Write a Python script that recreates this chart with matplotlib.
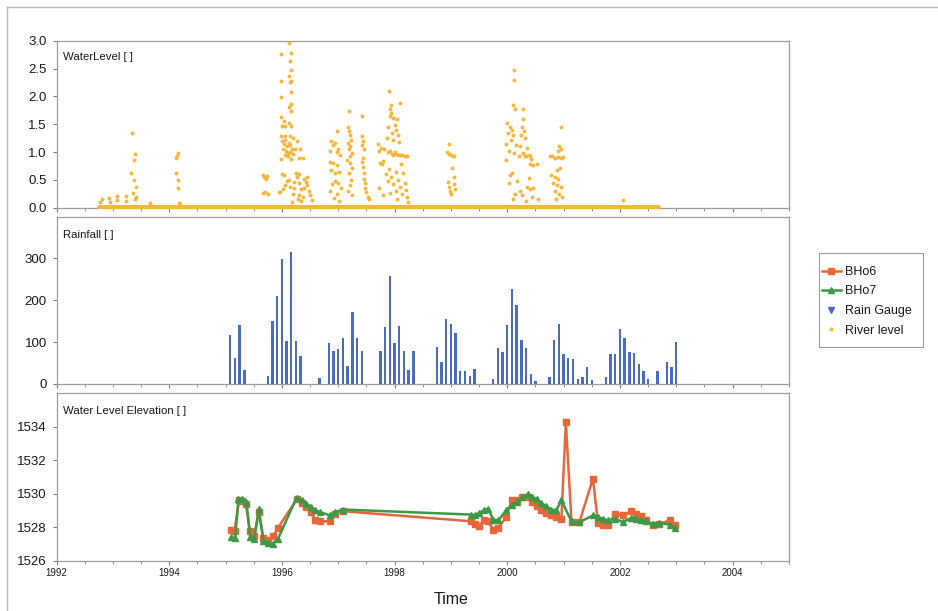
import numpy as np
import matplotlib
matplotlib.use("Agg")
import matplotlib.pyplot as plt
from matplotlib.lines import Line2D
from matplotlib.ticker import MultipleLocator, FormatStrFormatter
from matplotlib.patches import Rectangle

plt.rcParams['font.family'] = ['Liberation Sans', 'DejaVu Sans']

# ---------------- River level (daily gauge, decimal years) ----------------
river_base_start = 1992.75
river_base_end = 2002.68
river_base_level = 0.02

river_1993_t = [1992.78, 1992.80, 1992.94, 1992.95, 1993.07, 1993.08, 1993.23, 1993.24,
                1993.33, 1993.34, 1993.37, 1993.38, 1993.40, 1993.41, 1993.36, 1993.41,
                1993.39, 1993.66]
river_1993_v = [0.10, 0.15, 0.17, 0.11, 0.21, 0.13, 0.21, 0.12,
                0.62, 1.34, 0.86, 0.50, 0.96, 0.38, 0.26, 0.20,
                0.15, 0.08]

river_1994_t = [1994.12, 1994.12, 1994.15, 1994.15, 1994.16, 1994.18, 1994.14, 1994.20]
river_1994_v = [0.89, 0.62, 0.99, 0.50, 0.35, 0.09, 0.93, 0.07]

river_1995_t = [1995.66, 1995.68, 1995.70, 1995.72, 1995.74, 1995.67, 1995.70, 1995.75, 1995.95]
river_1995_v = [0.58, 0.55, 0.56, 0.52, 0.57, 0.26, 0.29, 0.24, 0.28]

river_1996_t = [1996.13, 1995.99, 1996.17, 1996.14, 1996.16, 1996.13, 1996.17, 1996.15, 1995.99,
                1996.17, 1995.99, 1996.17, 1996.13, 1996.16, 1995.98, 1996.03, 1996.12, 1996.16,
                1996.00, 1996.06, 1995.99, 1996.05, 1996.14, 1996.19,
                1996.00, 1996.03, 1996.06, 1996.09, 1996.12, 1996.15, 1996.18, 1996.02, 1996.08,
                1996.11, 1996.14, 1996.05, 1996.20, 1996.27, 1996.24, 1996.32, 1996.30, 1996.37,
                1995.99, 1996.10, 1996.17,
                1996.00, 1996.04, 1996.25, 1996.31, 1996.09, 1996.22, 1996.31, 1996.40, 1996.42,
                1996.14, 1996.22, 1996.34, 1996.39, 1996.02, 1995.97, 1996.20, 1996.31, 1996.37,
                1996.28, 1996.34, 1996.45, 1996.48, 1996.50, 1996.44, 1996.26, 1996.12, 1996.06,
                1996.53, 1996.18]
river_1996_v = [2.95, 2.77, 2.78, 2.63, 2.48, 2.37, 2.28, 2.25, 2.27,
                2.08, 1.98, 1.86, 1.80, 1.74, 1.63, 1.56, 1.53, 1.47,
                1.47, 1.46, 1.29, 1.29, 1.28, 1.25,
                1.20, 1.15, 1.22, 1.10, 1.17, 1.12, 1.05, 1.05, 1.02,
                0.98, 1.00, 0.95, 0.96, 1.20, 1.05, 1.05, 0.90, 0.90,
                0.87, 0.92, 0.88,
                0.60, 0.58, 0.62, 0.60, 0.48, 0.47, 0.45, 0.52, 0.47,
                0.37, 0.35, 0.33, 0.36, 0.33, 0.28, 0.25, 0.22, 0.20,
                0.15, 0.12, 0.40, 0.30, 0.22, 0.55, 0.55, 0.50, 0.41,
                0.14, 0.10]

river_1997_t = [1996.97, 1996.88, 1996.94, 1996.91, 1997.00, 1996.86, 1996.97, 1997.03, 1996.85,
                1996.91, 1996.97, 1996.88, 1996.94, 1997.01, 1996.94, 1996.99, 1996.89, 1996.85,
                1996.97, 1997.05, 1996.92, 1997.02,
                1997.19, 1997.17, 1997.19, 1997.20, 1997.23, 1997.17, 1997.21, 1997.19, 1997.24,
                1997.20, 1997.16, 1997.21, 1997.24, 1997.19, 1997.22, 1997.20, 1997.18, 1997.25,
                1997.43, 1997.42, 1997.44, 1997.43, 1997.45, 1997.44, 1997.42, 1997.44, 1997.45,
                1997.46, 1997.47, 1997.48, 1997.50, 1997.52, 1997.55]
river_1997_v = [1.38, 1.20, 1.17, 1.12, 1.05, 1.02, 1.00, 0.95, 0.82,
                0.80, 0.76, 0.68, 0.62, 0.65, 0.48, 0.45, 0.42, 0.30,
                0.25, 0.35, 0.18, 0.12,
                1.74, 1.45, 1.38, 1.30, 1.22, 1.17, 1.10, 1.05, 0.98,
                0.92, 0.85, 0.80, 0.72, 0.62, 0.50, 0.40, 0.30, 0.22,
                1.65, 1.28, 1.20, 1.12, 1.05, 0.90, 0.82, 0.74, 0.63,
                0.52, 0.45, 0.36, 0.28, 0.20, 0.15]

river_1998_t = [1997.90, 1997.93, 1997.91, 1997.94, 1997.92, 1998.09, 1997.98, 1998.05, 1998.00,
                1997.88, 1998.03, 1997.95, 1998.06, 1997.86, 1997.98, 1998.08, 1997.70, 1997.76,
                1997.72, 1997.82, 1997.88, 1997.92, 1997.95, 1997.98, 1998.00, 1998.03, 1998.06,
                1998.10, 1998.14, 1998.18, 1998.22, 1997.74, 1997.78, 1997.80, 1998.12, 1997.90,
                1998.02, 1997.84, 1998.15, 1997.94, 1998.06, 1997.88, 1998.18, 1997.98, 1998.10,
                1997.72, 1998.02, 1998.20, 1997.92, 1998.14, 1997.80, 1998.22, 1998.05, 1998.24]
river_1998_v = [2.10, 1.84, 1.77, 1.70, 1.64, 1.88, 1.62, 1.60, 1.48,
                1.45, 1.40, 1.35, 1.30, 1.25, 1.22, 1.18, 1.15, 1.08,
                1.02, 1.05, 1.00, 1.02, 0.97, 0.95, 1.00, 0.96, 0.94,
                0.95, 0.94, 0.93, 0.93, 0.80, 0.78, 0.83, 0.78, 0.70,
                0.65, 0.60, 0.62, 0.55, 0.50, 0.48, 0.45, 0.42, 0.38,
                0.35, 0.30, 0.32, 0.27, 0.25, 0.22, 0.20, 0.15, 0.10]

river_1999_t = [1998.97, 1998.93, 1998.96, 1999.00, 1999.04, 1999.06, 1999.02, 1998.94, 1999.05,
                1998.96, 1998.98, 1999.00, 1999.06, 1999.08]
river_1999_v = [1.14, 1.00, 0.97, 0.95, 0.93, 0.92, 0.72, 0.46, 0.55,
                0.38, 0.30, 0.25, 0.43, 0.33]

river_2000_t = [2000.12, 2000.12, 2000.11, 2000.13, 2000.28, 2000.28, 2000.00, 2000.05, 2000.08,
                2000.02, 2000.10, 2000.27, 2000.30, 2000.25, 2000.32, 2000.06, 1999.98, 2000.15,
                2000.22, 2000.35, 2000.03, 2000.12, 2000.28, 2000.31, 2000.34, 2000.38, 2000.40,
                2000.20, 2000.43, 1999.97, 2000.40, 2000.46, 2000.52, 2000.08, 2000.05, 2000.38,
                2000.18, 2000.03, 2000.35, 2000.40, 2000.46, 2000.22, 2000.14, 2000.27, 2000.44,
                2000.55, 2000.33, 2000.10]
river_2000_v = [2.47, 2.29, 1.84, 1.78, 1.78, 1.60, 1.52, 1.45, 1.40,
                1.35, 1.30, 1.45, 1.38, 1.30, 1.25, 1.22, 1.15, 1.12,
                1.10, 1.08, 1.02, 0.98, 0.98, 0.93, 0.92, 0.94, 0.92,
                0.92, 0.88, 0.85, 0.78, 0.76, 0.78, 0.62, 0.58, 0.54,
                0.48, 0.45, 0.38, 0.33, 0.36, 0.30, 0.24, 0.22, 0.20,
                0.15, 0.12, 0.15]

river_2001_t = [2000.95, 2000.92, 2000.96, 2000.90, 2000.76, 2000.80, 2000.85, 2000.90, 2000.95,
                2000.99, 2000.93, 2000.89, 2000.78, 2000.84, 2000.90, 2000.81, 2000.88, 2000.95,
                2000.84, 2000.91, 2000.98, 2000.87, 2002.05]
river_2001_v = [1.45, 1.10, 1.05, 1.02, 0.93, 0.92, 0.90, 0.91, 0.90,
                0.91, 0.72, 0.68, 0.58, 0.55, 0.52, 0.45, 0.40, 0.38,
                0.30, 0.25, 0.20, 0.15, 0.13]

# ---------------- Monthly rainfall (months counted from Jan 1992) ----------------
rain_month = [37, 38, 39, 40, 45, 46, 47, 48, 49, 50, 51, 52, 56, 58, 59, 60, 61, 62, 63, 64, 65,
              69, 70, 71, 72, 73, 74, 75, 76, 81, 82, 83, 84, 85, 86, 87, 88, 89, 93, 94, 95, 96,
              97, 98, 99, 100, 101, 102, 105, 106, 107, 108, 109, 110, 111, 112, 113, 114, 117,
              118, 119, 120, 121, 122, 123, 124, 125, 126, 128, 130, 131, 132]
rain_mm = [116, 62, 141, 34, 18, 151, 211, 298, 102, 316, 102, 66, 14, 98, 79, 84, 111, 44, 171,
           111, 79, 79, 136, 259, 98, 139, 79, 34, 79, 88, 52, 155, 143, 121, 30, 30, 18, 37, 12,
           87, 76, 141, 227, 189, 105, 86, 25, 7, 17, 105, 143, 71, 62, 59, 13, 16, 41, 9, 16,
           71, 71, 132, 110, 76, 73, 48, 30, 13, 30, 52, 40, 101]

# ---------------- Borehole water level elevation ----------------
bho6_t = [1995.09, 1995.16, 1995.24, 1995.30, 1995.36, 1995.43, 1995.51, 1995.59, 1995.67,
          1995.76, 1995.84, 1995.93, 1996.26, 1996.35, 1996.43, 1996.51, 1996.59, 1996.68,
          1996.85, 1996.94, 1997.09, 1999.36, 1999.43, 1999.50, 1999.58, 1999.66, 1999.75,
          1999.84, 1999.98, 2000.08, 2000.18, 2000.27, 2000.36, 2000.44, 2000.52, 2000.60,
          2000.69, 2000.78, 2000.87, 2000.96, 2001.04, 2001.14, 2001.28, 2001.52, 2001.61,
          2001.70, 2001.78, 2001.92, 2002.05, 2002.20, 2002.29, 2002.38, 2002.46, 2002.58,
          2002.70, 2002.88, 2002.97]
bho6_v = [1527.85, 1527.80, 1529.60, 1529.55, 1529.40, 1527.75, 1527.45, 1528.90, 1527.35,
          1527.25, 1527.45, 1527.95, 1529.65, 1529.45, 1529.20, 1528.90, 1528.40, 1528.35,
          1528.35, 1528.80, 1528.95, 1528.35, 1528.20, 1528.05, 1528.40, 1528.35, 1527.85,
          1527.95, 1528.60, 1529.60, 1529.60, 1529.80, 1529.80, 1529.50, 1529.25, 1529.05,
          1528.85, 1528.75, 1528.60, 1528.50, 1534.25, 1528.30, 1528.30, 1530.90, 1528.25,
          1528.15, 1528.10, 1528.80, 1528.70, 1528.95, 1528.80, 1528.65, 1528.40, 1528.10,
          1528.20, 1528.40, 1528.10]

bho7_t = [1995.10, 1995.17, 1995.23, 1995.30, 1995.37, 1995.44, 1995.51, 1995.59, 1995.67,
          1995.76, 1995.84, 1995.93, 1996.26, 1996.35, 1996.43, 1996.51, 1996.59, 1996.68,
          1996.85, 1996.94, 1997.09, 1999.36, 1999.43, 1999.50, 1999.58, 1999.66, 1999.75,
          1999.84, 1999.98, 2000.08, 2000.18, 2000.27, 2000.36, 2000.44, 2000.52, 2000.60,
          2000.69, 2000.78, 2000.87, 2000.96, 2001.14, 2001.28, 2001.52, 2001.61, 2001.70,
          2001.78, 2001.92, 2002.05, 2002.20, 2002.29, 2002.38, 2002.46, 2002.58, 2002.70,
          2002.88, 2002.97]
bho7_v = [1527.40, 1527.35, 1529.65, 1529.65, 1529.50, 1527.40, 1527.30, 1529.10, 1527.20,
          1527.05, 1527.00, 1527.30, 1529.75, 1529.60, 1529.40, 1529.20, 1529.00, 1528.90,
          1528.70, 1528.90, 1529.05, 1528.75, 1528.70, 1528.85, 1529.00, 1529.10, 1528.45,
          1528.40, 1529.00, 1529.35, 1529.50, 1529.80, 1529.95, 1529.80, 1529.70, 1529.45,
          1529.25, 1529.05, 1529.00, 1529.60, 1528.35, 1528.30, 1528.70, 1528.60, 1528.50,
          1528.40, 1528.50, 1528.30, 1528.55, 1528.50, 1528.40, 1528.35, 1528.20, 1528.25,
          1528.15, 1527.95]

year_ticks = [1992, 1994, 1996, 1998, 2000, 2002, 2004]

# ---------------- colours ----------------
C_RIVER = '#f6b73c'
C_RAIN = '#4a6cc4'
C_BH6 = '#e8673a'
C_BH7 = '#3c9a46'
C_FRAME = '#9c9c9c'
C_TEXT = '#1a1a1a'

W_PX, H_PX = 938, 611
fig = plt.figure(figsize=(W_PX / 100, H_PX / 100), dpi=100)
fig.patch.set_facecolor('white')

left_px, right_px = 56.5, 789.0


def panel(top_px, bot_px):
    return fig.add_axes([left_px / W_PX, 1 - bot_px / H_PX,
                         (right_px - left_px) / W_PX, (bot_px - top_px) / H_PX])


ax1 = panel(40.7, 207.7)
ax2 = panel(216.5, 384.0)
ax3 = panel(393.0, 560.7)

for ax in (ax1, ax2, ax3):
    ax.set_xlim(1992, 2005)
    for sp in ax.spines.values():
        sp.set_color(C_FRAME)
        sp.set_linewidth(0.9)
    ax.xaxis.set_major_locator(MultipleLocator(2))
    ax.xaxis.set_minor_locator(MultipleLocator(0.5))
    ax.tick_params(axis='y', which='major', direction='out', length=3, width=0.8,
                   color='#808080', labelsize=9.5, labelcolor=C_TEXT, pad=4)
    ax.tick_params(axis='x', which='major', direction='out', length=3, width=0.8,
                   color='#808080', labelsize=7, labelcolor=C_TEXT, pad=2)
    ax.tick_params(axis='x', which='minor', direction='out', length=2, width=0.7, color='#909090')
    ax.tick_params(axis='y', which='both', right=False)
    ax.tick_params(axis='x', which='both', top=False)

# Water level scatter
base_t = np.arange(river_base_start, river_base_end, 2 / 365)
ax1.scatter(base_t, np.full(base_t.size, river_base_level), s=9, color=C_RIVER,
            linewidths=0, zorder=3)
for t, v in [(river_1993_t, river_1993_v), (river_1994_t, river_1994_v),
             (river_1995_t, river_1995_v), (river_1996_t, river_1996_v),
             (river_1997_t, river_1997_v), (river_1998_t, river_1998_v),
             (river_1999_t, river_1999_v), (river_2000_t, river_2000_v),
             (river_2001_t, river_2001_v)]:
    ax1.scatter(t, v, s=8, color=C_RIVER, linewidths=0, zorder=3)
ax1.set_ylim(0, 3.0)
ax1.yaxis.set_major_locator(MultipleLocator(0.5))
ax1.yaxis.set_major_formatter(FormatStrFormatter('%.1f'))
ax1.tick_params(axis='x', labelbottom=False)
ax1.text(0.009, 0.905, 'WaterLevel [ ]', transform=ax1.transAxes, fontsize=8.2,
         color=C_TEXT, va='center', ha='left')

# Rainfall bars
rain_x = [1992 + m / 12 for m in rain_month]
ax2.bar(rain_x, rain_mm, width=0.042, color=C_RAIN, align='center', zorder=3)
ax2.set_ylim(0, 400)
ax2.set_yticks([0, 100, 200, 300])
ax2.tick_params(axis='x', labelbottom=False)
ax2.text(0.009, 0.89, 'Rainfall [ ]', transform=ax2.transAxes, fontsize=8.2,
         color=C_TEXT, va='center', ha='left')

# Borehole elevations
ax3.plot(bho6_t, bho6_v, color=C_BH6, lw=1.8, marker='s', ms=4.8, mec=C_BH6, mfc=C_BH6,
         zorder=3)
ax3.plot(bho7_t, bho7_v, color=C_BH7, lw=1.8, marker='^', ms=4.8, mec=C_BH7, mfc=C_BH7,
         zorder=4)
ax3.set_ylim(1526, 1536)
ax3.set_yticks([1526, 1528, 1530, 1532, 1534])
ax3.set_xticks(year_ticks)
ax3.set_xticklabels([str(y) for y in year_ticks])
ax3.text(0.009, 0.895, 'Water Level Elevation [ ]', transform=ax3.transAxes, fontsize=8.2,
         color=C_TEXT, va='center', ha='left')

fig.text(451 / W_PX, 1 - 600 / H_PX, 'Time', fontsize=11.5, color=C_TEXT,
         ha='center', va='center')

# legend: entries placed without a frame, box drawn separately
handles = [
    Line2D([], [], color=C_BH6, lw=1.8, marker='s', ms=4, mec=C_BH6),
    Line2D([], [], color=C_BH7, lw=1.8, marker='^', ms=4, mec=C_BH7),
    Line2D([], [], color=C_RAIN, lw=0, marker='v', ms=4.5),
    Line2D([], [], color=C_RIVER, lw=0, marker='o', ms=2),
]
leg = fig.legend(handles, ['BHo6', 'BHo7', 'Rain Gauge', 'River level'],
                 loc='upper left', bbox_to_anchor=(822 / W_PX, 1 - 266 / H_PX),
                 fontsize=9, frameon=False, handlelength=1.5,
                 handletextpad=0.3, labelspacing=0.6, borderpad=0, borderaxespad=0)
for txt in leg.get_texts():
    txt.set_color(C_TEXT)
fig.patches.append(Rectangle((819 / W_PX, 1 - 347 / H_PX), 104 / W_PX, 94 / H_PX,
                             transform=fig.transFigure, fill=False,
                             edgecolor=C_FRAME, linewidth=0.8))

# outer border line on the left edge of the figure
fig.add_artist(Line2D([7 / W_PX, 7 / W_PX], [0, 1 - 7 / H_PX], transform=fig.transFigure,
                      color='#b8b8b8', linewidth=1.0))
fig.add_artist(Line2D([7 / W_PX, 1], [1 - 7 / H_PX, 1 - 7 / H_PX], transform=fig.transFigure,
                      color='#b8b8b8', linewidth=1.0))

fig.savefig('out.png', dpi=100)
